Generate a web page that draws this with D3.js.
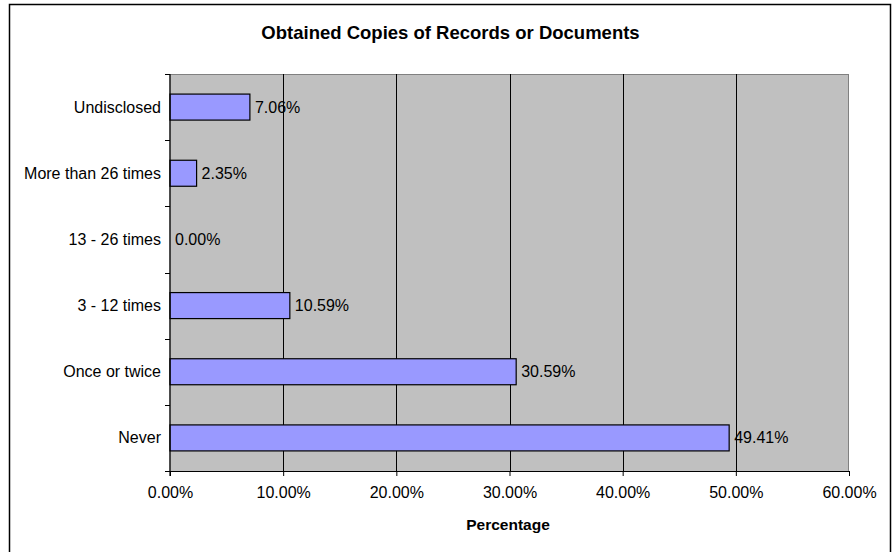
<!DOCTYPE html>
<html lang="en">
<head>
	<meta charset="UTF-8">
	<title>Obtained Copies of Records or Documents</title>
	<style>
		body { margin: 0; background: #fff; }
		text { font-family: Arial, "Liberation Sans", sans-serif; fill: #000; }
	</style>
</head>
<body>
	<svg id="cont" width="894" height="552"></svg>
</body>
<script src="https://cdn.jsdelivr.net/npm/d3@7"></script>
<script>
	// data, top to bottom as drawn
	let categories = ["Undisclosed", "More than 26 times", "13 - 26 times", "3 - 12 times", "Once or twice", "Never"];
	let values = [7.06, 2.35, 0.00, 10.59, 30.59, 49.41];
	let xTicks = [0, 10, 20, 30, 40, 50, 60];
	let title = "Obtained Copies of Records or Documents";
	let xTitle = "Percentage";

	let svg = d3.select("#cont");
	let plotLeft = 170, plotRight = 849, plotTop = 74, plotBottom = 471;

	// outer chart border
	svg.append("rect")
		.attr("x", 9.5).attr("y", 4.5)
		.attr("width", 881).attr("height", 560)
		.attr("fill", "#fff")
		.attr("stroke", "#000")
		.attr("stroke-width", 1.5);

	let x = d3.scaleLinear().domain([0, 60]).range([plotLeft, plotRight]);
	let band = d3.scaleBand().domain(categories).range([plotTop, plotBottom]);
	let y = d3.scaleBand().domain(categories).range([plotTop, plotBottom])
		.paddingInner(0.607).paddingOuter(0.3035);

	// plot area
	svg.append("rect")
		.attr("x", plotLeft).attr("y", plotTop + 0.5)
		.attr("width", plotRight - plotLeft - 0.5).attr("height", plotBottom - plotTop)
		.attr("fill", "#c0c0c0")
		.attr("stroke", "#808080")
		.attr("stroke-width", 1);

	// gridlines
	svg.append("g").selectAll("line")
		.data(xTicks.slice(1, -1))
		.join("line")
		.attr("x1", d => Math.round(x(d)) + 0.5).attr("x2", d => Math.round(x(d)) + 0.5)
		.attr("y1", plotTop).attr("y2", plotBottom)
		.attr("stroke", "#000");

	// bars
	svg.append("g").selectAll("rect")
		.data(values)
		.join("rect")
		.attr("x", x(0))
		.attr("y", (d, i) => y(categories[i]))
		.attr("width", d => x(d) - x(0))
		.attr("height", y.bandwidth())
		.attr("fill", d => d > 0 ? "#9999ff" : "none")
		.attr("stroke", d => d > 0 ? "#000" : "none")
		.attr("stroke-width", 1.2);

	// value labels
	svg.append("g").selectAll("text")
		.data(values)
		.join("text")
		.attr("x", d => x(d) + 5)
		.attr("y", (d, i) => band(categories[i]) + band.bandwidth() / 2 + 5.5)
		.attr("font-size", "16px")
		.text(d => d.toFixed(2) + "%");

	// x axis
	let xaxis = d3.axisBottom(x)
		.tickValues(xTicks)
		.tickSizeInner(5)
		.tickSizeOuter(0)
		.tickPadding(10.5)
		.tickFormat(d => d.toFixed(2) + "%");
	let gx = svg.append("g")
		.attr("transform", "translate(0," + plotBottom + ")")
		.call(xaxis);
	gx.select(".domain").attr("stroke", "#000").attr("stroke-width", 1.2);
	gx.selectAll("text").attr("font-size", "16px").attr("font-family", "Arial, 'Liberation Sans', sans-serif");

	// y axis: line, ticks at band edges, labels at band centres
	svg.append("line")
		.attr("x1", plotLeft).attr("x2", plotLeft)
		.attr("y1", plotTop).attr("y2", plotBottom + 5)
		.attr("stroke", "#000").attr("stroke-width", 1.2);
	let edges = categories.map(c => band(c)).concat([plotBottom]);
	svg.append("g").selectAll("line")
		.data(edges)
		.join("line")
		.attr("x1", plotLeft - 5).attr("x2", plotLeft)
		.attr("y1", d => Math.round(d) + 0.5).attr("y2", d => Math.round(d) + 0.5)
		.attr("stroke", "#000");
	svg.append("g").selectAll("text")
		.data(categories)
		.join("text")
		.attr("x", 161)
		.attr("y", d => band(d) + band.bandwidth() / 2 + 5.5)
		.attr("text-anchor", "end")
		.attr("font-size", "16px")
		.text(d => d);

	// titles
	svg.append("text")
		.attr("x", 450.5).attr("y", 39)
		.attr("text-anchor", "middle")
		.attr("font-size", "18.5px")
		.attr("font-weight", "bold")
		.text(title);
	svg.append("text")
		.attr("x", 508).attr("y", 530)
		.attr("text-anchor", "middle")
		.attr("font-size", "15.5px")
		.attr("font-weight", "bold")
		.text(xTitle);
</script>
</html>
